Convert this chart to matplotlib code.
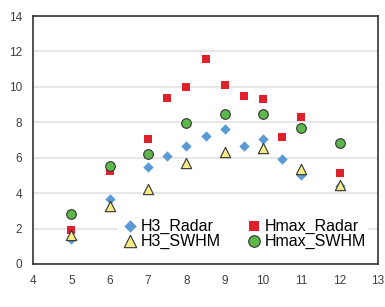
import matplotlib
matplotlib.use("Agg")
import matplotlib.pyplot as plt

plt.rcParams['font.family'] = ['Liberation Sans', 'DejaVu Sans']

radar_x = [5, 6, 7, 7.5, 8, 8.5, 9, 9.5, 10, 10.5, 11, 12]
h3_radar = [1.4, 3.65, 5.5, 6.1, 6.65, 7.2, 7.6, 6.65, 7.05, 5.9, 5.05, 4.4]
hmax_radar = [1.9, 5.25, 7.05, 9.35, 10.0, 11.6, 10.1, 9.5, 9.3, 7.15, 8.3, 5.15]

swhm_x = [5, 6, 7, 8, 9, 10, 11, 12]
h3_swhm = [1.65, 3.25, 4.25, 5.7, 6.3, 6.55, 5.35, 4.45]
hmax_swhm = [2.85, 5.55, 6.2, 7.95, 8.45, 8.45, 7.65, 6.85]

fig = plt.figure(figsize=(3.85, 3.07), dpi=100)
ax = fig.add_axes([33 / 385, 1 - 264 / 307, 345 / 385, 248 / 307])

h1 = ax.scatter(radar_x, h3_radar, marker='D', s=28, color='#5b9bd5', linewidths=0,
                label='H3_Radar', zorder=3)
h2 = ax.scatter(radar_x, hmax_radar, marker='s', s=34, color='#e0202a', linewidths=0,
                label='Hmax_Radar', zorder=3)
h3 = ax.scatter(swhm_x, h3_swhm, marker='^', s=55, color='#f5ec86', edgecolors='#333333',
                linewidths=0.8, label='H3_SWHM', zorder=4)
h4 = ax.scatter(swhm_x, hmax_swhm, marker='o', s=48, color='#5cb84a', edgecolors='#333333',
                linewidths=0.8, label='Hmax_SWHM', zorder=4)

ax.set_xlim(4, 13)
ax.set_ylim(0, 14)
ax.set_xticks(range(4, 14))
ax.set_yticks(range(0, 15, 2))
ax.yaxis.grid(True, color='#e3e3e3', linewidth=1.2)
ax.set_axisbelow(True)
ax.tick_params(length=0, labelsize=8.5, colors='#404040', pad=8)
for s in ax.spines.values():
    s.set_color('#333333')
    s.set_linewidth(1.2)

# column-wise fill: put handles so rows read Radar pair / SWHM pair
leg = ax.legend([h1, h3, h2, h4], ['H3_Radar', 'H3_SWHM', 'Hmax_Radar', 'Hmax_SWHM'],
                ncol=2, loc='lower right', bbox_to_anchor=(0.995, 0.02),
                frameon=True, fontsize=11.5, handletextpad=0.05, columnspacing=1.5,
                borderpad=0.15, labelspacing=0.0, handlelength=1.2, fancybox=False,
                markerscale=1.2)
leg.get_frame().set_edgecolor('none')
leg.get_frame().set_facecolor('white')
leg.get_frame().set_alpha(1)

fig.savefig('out.png', dpi=100)
